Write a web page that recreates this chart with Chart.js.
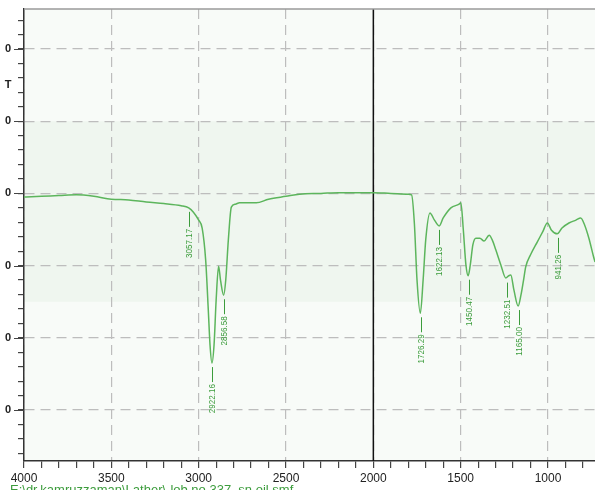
<!DOCTYPE html>
<html>
<head>
<meta charset="utf-8">
<script src="https://cdn.jsdelivr.net/npm/chart.js@4.4.1/dist/chart.umd.min.js"></script>
<style>
  html, body { margin: 0; padding: 0; background: #ffffff; overflow: hidden; }
  #irChart { display: block; }
</style>
</head>
<body>
<canvas id="irChart" width="595" height="490"></canvas>
<script>
// spectrum (wavenumber cm-1 / %T on chart units)
const wavenumbers = [4000, 3900, 3800, 3700, 3600, 3500, 3400, 3300, 3200, 3100, 3057, 3030, 3000, 2980, 2960, 2945, 2935, 2924, 2912, 2900, 2886, 2875, 2857, 2845, 2830, 2813, 2790, 2766, 2700, 2670, 2600, 2500, 2423, 2300, 2200, 2100, 2000, 1900, 1800, 1781, 1765, 1750, 1731, 1715, 1700, 1676, 1650, 1623, 1600, 1556, 1509, 1499, 1485, 1470, 1457, 1445, 1430, 1413, 1390, 1366, 1337, 1320, 1299, 1270, 1242, 1225, 1213, 1195, 1171, 1155, 1140, 1128, 1100, 1061, 1030, 1004, 980, 947, 920, 880, 840, 813, 790, 766, 740, 731];
const transmittance = [39.5, 39.6, 39.7, 39.8, 39.6, 39.2, 39.1, 38.8, 38.6, 38.3, 38.0, 37.4, 36.3, 35.2, 30.8, 23.9, 19.0, 16.5, 19.0, 25.2, 29.9, 28.0, 25.9, 28.0, 33.6, 38.1, 38.5, 38.7, 38.7, 38.7, 39.2, 39.6, 39.9, 40.0, 40.1, 40.1, 40.1, 40.0, 39.9, 39.8, 35.8, 28.0, 23.4, 28.0, 33.6, 37.3, 36.3, 35.5, 36.6, 38.0, 38.5, 38.7, 35.0, 30.1, 28.6, 30.1, 32.9, 33.8, 33.8, 33.4, 34.2, 33.6, 32.2, 30.1, 28.3, 28.6, 28.7, 26.6, 24.4, 25.9, 28.0, 29.8, 31.5, 33.3, 34.7, 35.9, 34.9, 34.4, 35.2, 35.9, 36.3, 36.6, 35.6, 33.8, 31.3, 30.5];

// peak labels
const peakWn = [3057.17, 2922.16, 2856.58, 1726.29, 1622.13, 1450.47, 1232.51, 1165.00, 941.26];
const peakT = [38.0, 16.5, 25.9, 23.4, 35.5, 28.6, 28.2, 24.4, 34.4];
const peakText = ["3057.17", "2922.16", "2856.58", "1726.29", "1622.13", "1450.47", "1232.51", "1165.00", "941.26"];

// axes
const xMin = 731, xMax = 4000;
const yMin = 2.94, yMax = 65.54;
const fileName = "E:\\dr.kamruzzaman\\Lather\\-lob no 337, sn oil.smf";

const spectrum = wavenumbers.map((w, i) => ({ x: w, y: transmittance[i] }));
const markerLine = [{ x: 2000, y: yMin }, { x: 2000, y: yMax }];

const backdrop = {
  id: "backdrop",
  beforeDraw(chart) {
    const { ctx, chartArea: a, scales } = chart;
    ctx.save();
    ctx.fillStyle = "#f8fbf8";
    ctx.fillRect(a.left, a.top, a.right - a.left, a.bottom - a.top);
    const y1 = scales.y.getPixelForValue(50);
    const y2 = scales.y.getPixelForValue(25);
    ctx.fillStyle = "#eff6ef";
    ctx.fillRect(a.left, y1, a.right - a.left, y2 - y1);
    ctx.restore();
  },
  afterDraw(chart) {
    const { ctx, chartArea: a, scales } = chart;
    ctx.save();
    // top frame
    ctx.strokeStyle = "#9a9a9a";
    ctx.lineWidth = 1.5;
    ctx.beginPath();
    ctx.moveTo(a.left, a.top);
    ctx.lineTo(a.right, a.top);
    ctx.stroke();

    // longer major ticks on y
    ctx.strokeStyle = "#444";
    ctx.lineWidth = 1;
    for (let v = 10; v <= 60; v += 10) {
      const y = Math.round(scales.y.getPixelForValue(v)) + 0.5;
      ctx.beginPath();
      ctx.moveTo(a.left - 10, y);
      ctx.lineTo(a.left, y);
      ctx.stroke();
    }

    // T label
    ctx.fillStyle = "#222";
    ctx.font = "bold 11px 'Liberation Sans', Arial";
    ctx.textAlign = "center";
    ctx.textBaseline = "middle";
    ctx.fillText("T", 8, scales.y.getPixelForValue(55));

    // peak markers
    ctx.strokeStyle = "#3c9c3c";
    ctx.fillStyle = "#3c9c3c";
    ctx.lineWidth = 1;
    peakWn.forEach((w, i) => {
      const x = Math.round(scales.x.getPixelForValue(w)) + 0.5;
      const y = scales.y.getPixelForValue(peakT[i]);
      ctx.beginPath();
      ctx.moveTo(x, y + 4);
      ctx.lineTo(x, y + 19);
      ctx.stroke();
      ctx.save();
      ctx.translate(x, y + 21);
      ctx.rotate(-Math.PI / 2);
      ctx.scale(0.85, 1);
      ctx.font = "9.5px 'Liberation Sans', Arial";
      ctx.textAlign = "right";
      ctx.textBaseline = "middle";
      ctx.fillText(peakText[i], 0, 0);
      ctx.restore();
    });

    // file name at the foot
    ctx.fillStyle = "#3c9c3c";
    ctx.font = "13px 'Liberation Sans', Arial";
    ctx.textAlign = "left";
    ctx.textBaseline = "top";
    ctx.fillText(fileName, 10, 484);
    ctx.restore();
  }
};

const ctx = document.getElementById("irChart");

const irChart = new Chart(ctx, {
  type: "line",
  data: {
    datasets: [
      {
        data: spectrum,
        borderColor: "#5cb55c",
        borderWidth: 1.5,
        pointRadius: 0,
        tension: 0.35,
        cubicInterpolationMode: "monotone",
        fill: false
      },
      {
        data: markerLine,
        borderColor: "#111",
        borderWidth: 1.5,
        pointRadius: 0,
        fill: false
      }
    ]
  },
  options: {
    responsive: false,
    animation: false,
    layout: {
      padding: { left: 0, right: 0, top: 9, bottom: 0 }
    },
    plugins: {
      legend: { display: false },
      tooltip: { enabled: false },
      title: { display: false }
    },
    scales: {
      x: {
        type: "linear",
        reverse: true,
        min: xMin,
        max: xMax,
        afterFit: scale => {
          scale.height = 29;
          scale.paddingLeft = 0;
          scale.paddingRight = 0;
        },
        border: { display: true, color: "#333", width: 1.5, dash: [10, 6] },
        grid: {
          color: c => (c.tick && c.tick.value % 500 === 0 ? "#bdbdbd" : "transparent"),
          lineWidth: 1.2,
          tickColor: "#444",
          tickLength: 7
        },
        ticks: {
          stepSize: 100,
          includeBounds: false,
          autoSkip: false,
          maxRotation: 0,
          padding: 3,
          color: "#222",
          font: { family: "'Liberation Sans', Arial", size: 12 },
          callback: v => (v % 500 === 0 ? String(v) : "")
        }
      },
      y: {
        type: "linear",
        min: yMin,
        max: yMax,
        afterFit: scale => {
          scale.width = 24;
          scale.paddingTop = 0;
          scale.paddingBottom = 0;
        },
        border: { display: true, color: "#333", width: 1.5, dash: [10, 6] },
        grid: {
          color: c => (c.tick && c.tick.value % 10 === 0 ? "#bdbdbd" : "transparent"),
          lineWidth: 1.2,
          tickColor: "#444",
          tickLength: 6
        },
        ticks: {
          stepSize: 2,
          includeBounds: false,
          autoSkip: false,
          maxTicksLimit: 1000,
          padding: 7,
          color: "#222",
          font: { family: "'Liberation Sans', Arial", size: 11, weight: "bold" },
          callback: v => (v % 10 === 0 ? "0" : "")
        }
      }
    }
  },
  plugins: [backdrop]
});
</script>
</body>
</html>
